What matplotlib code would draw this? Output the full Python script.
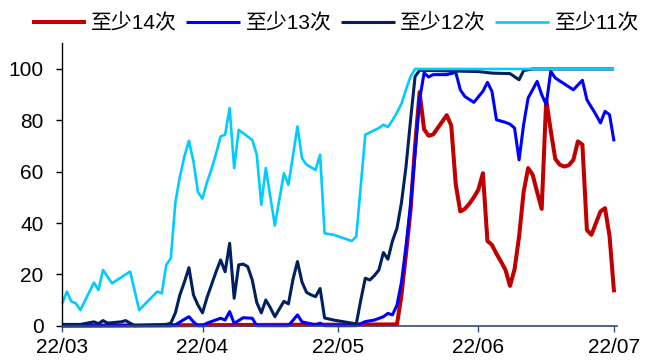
import matplotlib
matplotlib.use("Agg")
import matplotlib.pyplot as plt
import matplotlib.dates as mdates
import pandas as pd

plt.rcParams["font.family"] = ["Liberation Sans", "Noto Sans CJK SC", "DejaVu Sans"]

# 至少14次
dates_14 = ["03-01", "05-14", "05-15", "05-16", "05-17", "05-18", "05-19", "05-20",
            "05-21", "05-22", "05-23", "05-24", "05-25", "05-26", "05-27", "05-28",
            "05-29", "05-30", "05-31", "06-01", "06-02", "06-03", "06-04", "06-05",
            "06-06", "06-07", "06-08", "06-09", "06-10", "06-11", "06-12", "06-13",
            "06-14", "06-15", "06-16", "06-17", "06-18", "06-19", "06-20", "06-21",
            "06-22", "06-23", "06-24", "06-25", "06-26", "06-27", "06-28", "06-29",
            "06-30", "07-01"]
vals_14 = [0, 0.5, 12, 28, 45, 70, 91, 76.5,
           74, 74.5, 77, 79.5, 82, 78, 55, 44.5,
           45.5, 47.5, 50, 53, 59.4, 33, 31.5, 28,
           25, 21.7, 15.5, 22, 34.7, 52, 61.4, 58.8,
           52, 45.5, 88, 76, 65, 62.7, 62, 62.5,
           64.6, 71.8, 70.5, 37.3, 35.4, 40, 44.5, 45.8,
           35, 13]

# 至少13次
dates_13 = ["03-01", "03-25", "03-26", "03-28", "03-29", "03-30", "03-31", "04-01",
            "04-02", "04-05", "04-06", "04-07", "04-08", "04-10", "04-12", "04-13",
            "04-20", "04-22", "04-23", "04-26", "04-27", "04-28", "05-05", "05-07",
            "05-09", "05-11", "05-12", "05-13", "05-14", "05-15", "05-16", "05-17",
            "05-18", "05-19", "05-20", "05-21", "05-22", "05-25", "05-27", "05-28",
            "05-29", "05-31", "06-02", "06-03", "06-04", "06-05", "06-07", "06-08",
            "06-09", "06-10", "06-11", "06-12", "06-14", "06-15", "06-16", "06-17",
            "06-18", "06-22", "06-24", "06-25", "06-27", "06-28", "06-29", "06-30",
            "07-01"]
vals_13 = [0, 0, 0.3, 2.5, 3.5, 1.5, 0, 0,
           1, 2.9, 2.2, 5.5, 0.9, 3.1, 2.9, 0,
           0, 4.2, 1.5, 0.3, 1, 0, 0, 1.6,
           2.2, 3.5, 4.8, 4.2, 8, 17, 31, 47,
           67, 88, 98.5, 96.9, 97.8, 97.8, 98.7, 91.9,
           89.3, 87, 91.3, 94.8, 91.3, 80.2, 79.2, 78.5,
           77, 64.6, 78.3, 88.7, 95.2, 90, 86.1, 99.1,
           96.5, 91.9, 95.6, 88, 82.2, 79, 83.5, 82.2,
           71.8]

# 至少12次
dates_12 = ["03-01", "03-05", "03-08", "03-09", "03-10", "03-11", "03-14", "03-15",
            "03-16", "03-17", "03-24", "03-25", "03-26", "03-27", "03-28", "03-29",
            "03-30", "03-31", "04-01", "04-02", "04-03", "04-04", "04-05", "04-06",
            "04-07", "04-08", "04-09", "04-10", "04-11", "04-12", "04-13", "04-14",
            "04-15", "04-16", "04-17", "04-18", "04-19", "04-20", "04-21", "04-22",
            "04-23", "04-24", "04-25", "04-26", "04-27", "04-28", "04-30", "05-05",
            "05-06", "05-07", "05-08", "05-09", "05-10", "05-11", "05-12", "05-13",
            "05-14", "05-15", "05-16", "05-17", "05-18", "05-19", "06-01", "06-04",
            "06-08", "06-10", "06-11", "06-13", "07-01"]
vals_12 = [0.5, 0.5, 1.5, 0.8, 2, 1, 1.5, 2,
           1, 0, 0.5, 1, 5, 12, 17, 22.6,
           12, 8, 5, 11, 16, 21, 25.6, 21,
           32.1, 10.7, 23.7, 24, 23, 17.8, 9, 5,
           10, 7, 3.5, 6.5, 9.5, 8.5, 18, 25,
           17, 13, 12, 11.3, 14.5, 3, 2.2, 0.7,
           10, 18.5, 17.8, 19.5, 21.7, 28.5, 25.9, 33,
           38, 48, 62, 80, 97, 99.5, 99, 98.4,
           98.2, 95.8, 99.4, 100, 100]

# 至少11次
dates_11 = ["03-01", "03-02", "03-03", "03-04", "03-05", "03-08", "03-09", "03-10",
            "03-12", "03-16", "03-18", "03-22", "03-23", "03-24", "03-25", "03-26",
            "03-27", "03-28", "03-29", "03-30", "03-31", "04-01", "04-02", "04-03",
            "04-04", "04-05", "04-06", "04-07", "04-08", "04-09", "04-12", "04-13",
            "04-14", "04-15", "04-17", "04-19", "04-20", "04-22", "04-23", "04-24",
            "04-26", "04-27", "04-28", "04-30", "05-04", "05-05", "05-07", "05-10",
            "05-11", "05-12", "05-13", "05-14", "05-15", "05-16", "05-17", "05-18",
            "07-01"]
vals_11 = [8.7, 13.3, 9.4, 8.7, 6.1, 16.8, 13.9, 21.7,
           16.5, 21.1, 6.1, 13.3, 12.6, 23.7, 26.3, 48,
           58, 66, 72, 64, 52, 49.5, 56, 61,
           67, 73.7, 74.4, 84.8, 61.4, 76.3, 72.4, 66.6,
           47.1, 61.4, 39, 59.4, 54.9, 77.6, 65.3, 62.7,
           60.7, 66.6, 36, 35.4, 33, 34.7, 74.4, 77,
           78.3, 77.4, 80, 83, 86.5, 92, 97, 100,
           100]

labels = ["至少14次", "至少13次", "至少12次", "至少11次"]
colors = ["#C00000", "#0000FF", "#002060", "#00CCFF"]
widths = [2.9, 2.2, 2.2, 1.9]
all_dates = [dates_14, dates_13, dates_12, dates_11]
all_vals = [vals_14, vals_13, vals_12, vals_11]

fig = plt.figure(figsize=(6.51, 3.61), dpi=100)
ax = fig.add_axes([0.0957, 0.0978, 0.8516, 0.7822])

for d, v, lab, c, w in zip(all_dates, all_vals, labels, colors, widths):
    x = pd.to_datetime(["2022-" + s for s in d])
    ax.plot(x, v, color=c, lw=w, label=lab, clip_on=False,
            solid_joinstyle="round", solid_capstyle="butt")

ax.set_ylim(0, 110)
ax.set_yticks([0, 20, 40, 60, 80, 100])
ax.set_xlim(pd.Timestamp("2022-03-01"), pd.Timestamp("2022-07-01 14:00"))
ax.xaxis.set_major_locator(mdates.MonthLocator())
ax.xaxis.set_major_formatter(mdates.DateFormatter("%y/%m"))

for s in ["top", "right"]:
    ax.spines[s].set_visible(False)
ax.spines["left"].set_color("black")
ax.spines["left"].set_linewidth(1.0)
ax.spines["bottom"].set_color("#2F4B7C")
ax.spines["bottom"].set_linewidth(1.2)

ax.tick_params(axis="y", direction="out", length=4, width=1, color="black",
               labelsize=15, pad=9.5, labelcolor="black")
ax.tick_params(axis="x", direction="out", length=4, width=1, color="#2F4B7C",
               labelsize=15, pad=5, labelcolor="black")

fig.legend(loc="center", bbox_to_anchor=(0.515, 0.935), ncol=4, frameon=False,
           fontsize=15, handlelength=2.6, handletextpad=0.25, columnspacing=0.45,
           borderaxespad=0, borderpad=0)

fig.savefig("out.png", dpi=100)
